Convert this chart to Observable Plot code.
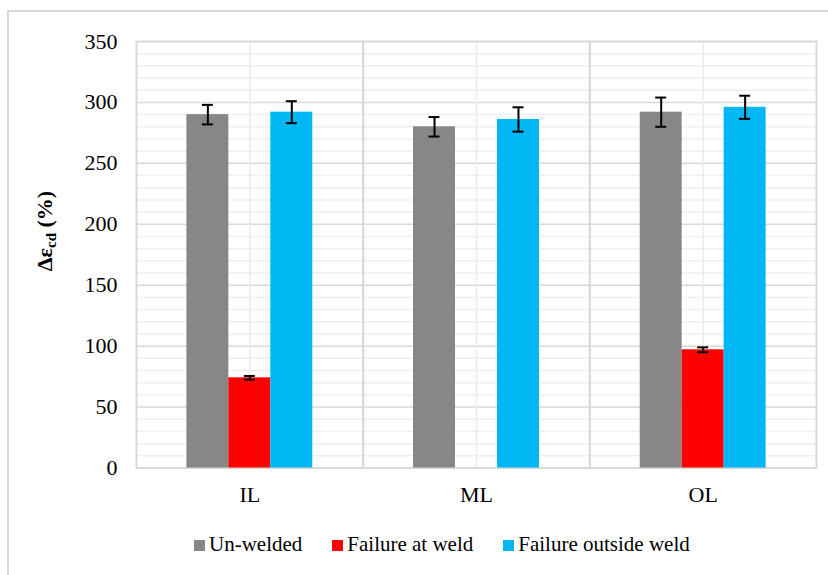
<!DOCTYPE html>
<html><head><meta charset="utf-8">
<script src="https://cdn.jsdelivr.net/npm/d3@7"></script>
<script src="https://cdn.jsdelivr.net/npm/@observablehq/plot@0.6"></script>
<style>
body{margin:0;background:#fff;}
#wrap{position:relative;width:828px;height:575px;overflow:hidden;background:#fff;}
#border{position:absolute;left:7px;top:10px;width:900px;height:700px;border-left:2px solid #d9d9d9;border-top:2px solid #d9d9d9;}
#chart{position:absolute;left:0;top:0;}
#legend{position:absolute;left:194px;top:534px;display:flex;font-size:21px;line-height:20px;color:#000;white-space:nowrap;}
#legend .item{margin-right:30px;}
#legend .sw{display:inline-block;width:11px;height:11px;margin-right:4px;vertical-align:baseline;}
</style>
</head><body>
<div id="wrap"><div id="border"></div><div id="chart"></div><div id="legend"></div></div>
<script>
const categories = ["IL", "ML", "OL"];
const series = ["Un-welded", "Failure at weld", "Failure outside weld"];
const colors = ["#878787", "#ff0000", "#00b6f3"];
const unwelded = [290, 280, 292];
const unweldedErr = [8, 8, 12];
const atWeld = [74, null, 97];
const atWeldErr = [1.5, null, 2];
const outsideWeld = [292, 286, 296];
const outsideWeldErr = [9, 10, 9.5];
const yTicks = [0, 50, 100, 150, 200, 250, 300, 350];
const yMinor = d3.range(0, 351, 10).filter(v => v % 50 !== 0);

const values = [unwelded, atWeld, outsideWeld];
const errs = [unweldedErr, atWeldErr, outsideWeldErr];
const data = [];
categories.forEach((c, i) => series.forEach((s, j) => {
  if (values[j][i] != null) data.push({cat: c, series: s, value: values[j][i], err: errs[j][i]});
}));

const font = "'Liberation Serif', 'Times New Roman', serif";
document.getElementById("legend").style.fontFamily = font;

const plot = Plot.plot({
  width: 828, height: 520,
  marginLeft: 136, marginRight: 12, marginTop: 41, marginBottom: 52.5,
  style: {fontFamily: font, fontSize: "22px", color: "#000", background: "transparent"},
  fx: {domain: categories, padding: 0, round: false, label: null, tickSize: 0, tickPadding: 18},
  x: {domain: series, paddingInner: 0, paddingOuter: 1.2, round: false, axis: null},
  y: {domain: [0, 350], ticks: yTicks, tickSize: 0, tickPadding: 19, label: null},
  color: {domain: series, range: colors},
  marks: [
    Plot.ruleY(yMinor, {stroke: "#efefef", strokeWidth: 1.5}),
    Plot.ruleY(yTicks.slice(1, -1), {stroke: "#d9d9d9", strokeWidth: 1.5}),
    Plot.ruleX(categories, {fx: d => d, x: () => series[1], stroke: "#ececec", strokeWidth: 1.5}),
    Plot.frame({stroke: "#d9d9d9", strokeWidth: 2}),
    Plot.barY(data, {fx: "cat", x: "series", y: "value", fill: "series"}),
    Plot.ruleX(data, {fx: "cat", x: "series", y1: d => d.value - d.err, y2: d => d.value + d.err, stroke: "#000", strokeWidth: 2}),
    Plot.tickY(data, {fx: "cat", x: "series", y: d => d.value - d.err, stroke: "#000", strokeWidth: 2, insetLeft: 15.5, insetRight: 15.5}),
    Plot.tickY(data, {fx: "cat", x: "series", y: d => d.value + d.err, stroke: "#000", strokeWidth: 2, insetLeft: 15.5, insetRight: 15.5})
  ]
});
document.getElementById("chart").appendChild(plot);

const svg = d3.select(plot);
const lab = svg.append("text")
  .attr("transform", "translate(52,231) rotate(-90)")
  .attr("text-anchor", "middle")
  .style("font-family", font).attr("font-size", 22).attr("font-weight", "bold").attr("fill", "#000");
lab.append("tspan").text("Δε");
lab.append("tspan").attr("dy", 4).attr("font-size", 15).text("cd");
lab.append("tspan").attr("dy", -4).text(" (%)");

const legend = d3.select("#legend");
series.forEach((s, i) => {
  const it = legend.append("span").attr("class", "item");
  it.append("span").attr("class", "sw").style("background", colors[i]);
  it.append("span").text(s);
});
</script>
</body></html>
